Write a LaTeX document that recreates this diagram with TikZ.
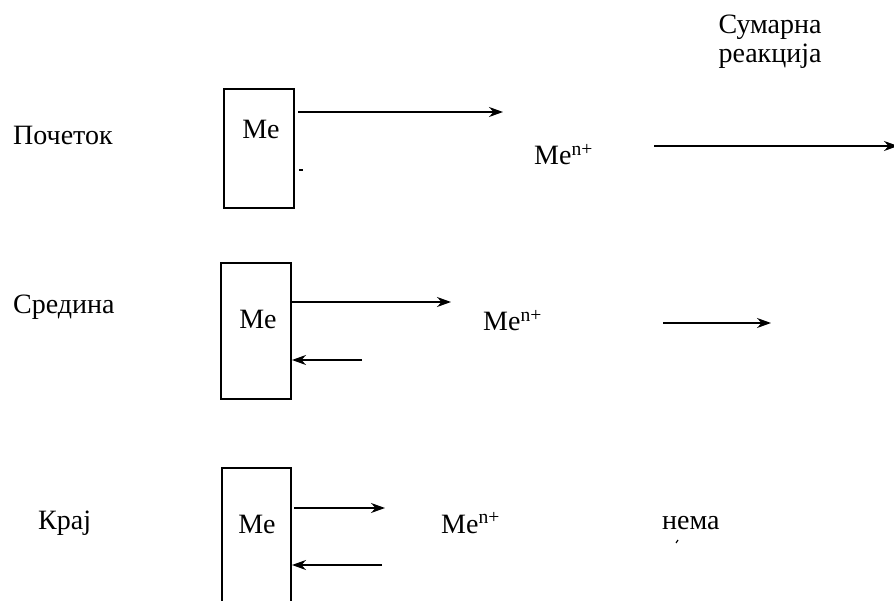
\documentclass[tikz,border=0pt]{standalone}
\usepackage{fontspec}
\setmainfont{Liberation Serif}
\usetikzlibrary{arrows.meta}
\tikzset{
  lbl/.style={font=\fontsize{28}{32}\selectfont, inner sep=0pt},
  metal/.style={draw, line width=1.6pt},
  arr/.style={line width=1.5pt, -{Stealth[length=14pt,width=10pt,inset=4.5pt]}},
}
\newcommand{\ion}{Me\textsuperscript{n+}}
\begin{document}
\begin{tikzpicture}[x=1pt,y=-1pt]
\useasboundingbox (0,0) rectangle (894,601);
% header
\node[lbl, anchor=base] (sum1) at (770,34) {Сумарна};
\node[lbl, anchor=base] (sum2) at (770,63) {реакција};
% row 1
\node[lbl, anchor=base west] (l1) at (13,145) {Почеток};
\draw[metal] (224,89) rectangle (294,208);
\node[lbl, anchor=base] (me1) at (261,139) {Me};
\coordinate (a1s) at (298,112);
\coordinate (a1e) at (503,112);
\draw[arr] (a1s) -- (a1e);
\coordinate (d1s) at (299,170);
\coordinate (d1e) at (303,170);
\draw[line width=1.2pt] (d1s) -- (d1e);
\node[lbl, anchor=base west] (ion1) at (534,165) {\ion};
\coordinate (r1s) at (654,146);
\coordinate (r1e) at (898,146);
\draw[arr] (r1s) -- (r1e);
% row 2
\node[lbl, anchor=base west] (l2) at (13,314) {Средина};
\draw[metal] (221,263) rectangle (291,399);
\node[lbl, anchor=base] (me2) at (258,329) {Me};
\coordinate (a2s) at (292,302);
\coordinate (a2e) at (451,302);
\draw[arr] (a2s) -- (a2e);
\coordinate (b2s) at (362,360);
\coordinate (b2e) at (292,360);
\draw[arr] (b2s) -- (b2e);
\node[lbl, anchor=base west] (ion2) at (483,331) {\ion};
\coordinate (r2s) at (663,323);
\coordinate (r2e) at (771,323);
\draw[arr] (r2s) -- (r2e);
% row 3
\node[lbl, anchor=base west] (l3) at (38,529) {Крај};
\draw[metal] (222,610) -- (222,468) -- (291,468) -- (291,610);
\node[lbl, anchor=base] (me3) at (257,533) {Me};
\coordinate (a3s) at (294,508);
\coordinate (a3e) at (385,508);
\draw[arr] (a3s) -- (a3e);
\coordinate (b3s) at (382,565);
\coordinate (b3e) at (292,565);
\draw[arr] (b3s) -- (b3e);
\node[lbl, anchor=base west] (ion3) at (441,533) {\ion};
\node[lbl, anchor=base west] (nema) at (662,529) {нема};
\coordinate (t1) at (676,543);
\coordinate (t2) at (678,540);
\draw[line width=1.2pt] (t1) -- (t2);
\end{tikzpicture}
\end{document}
